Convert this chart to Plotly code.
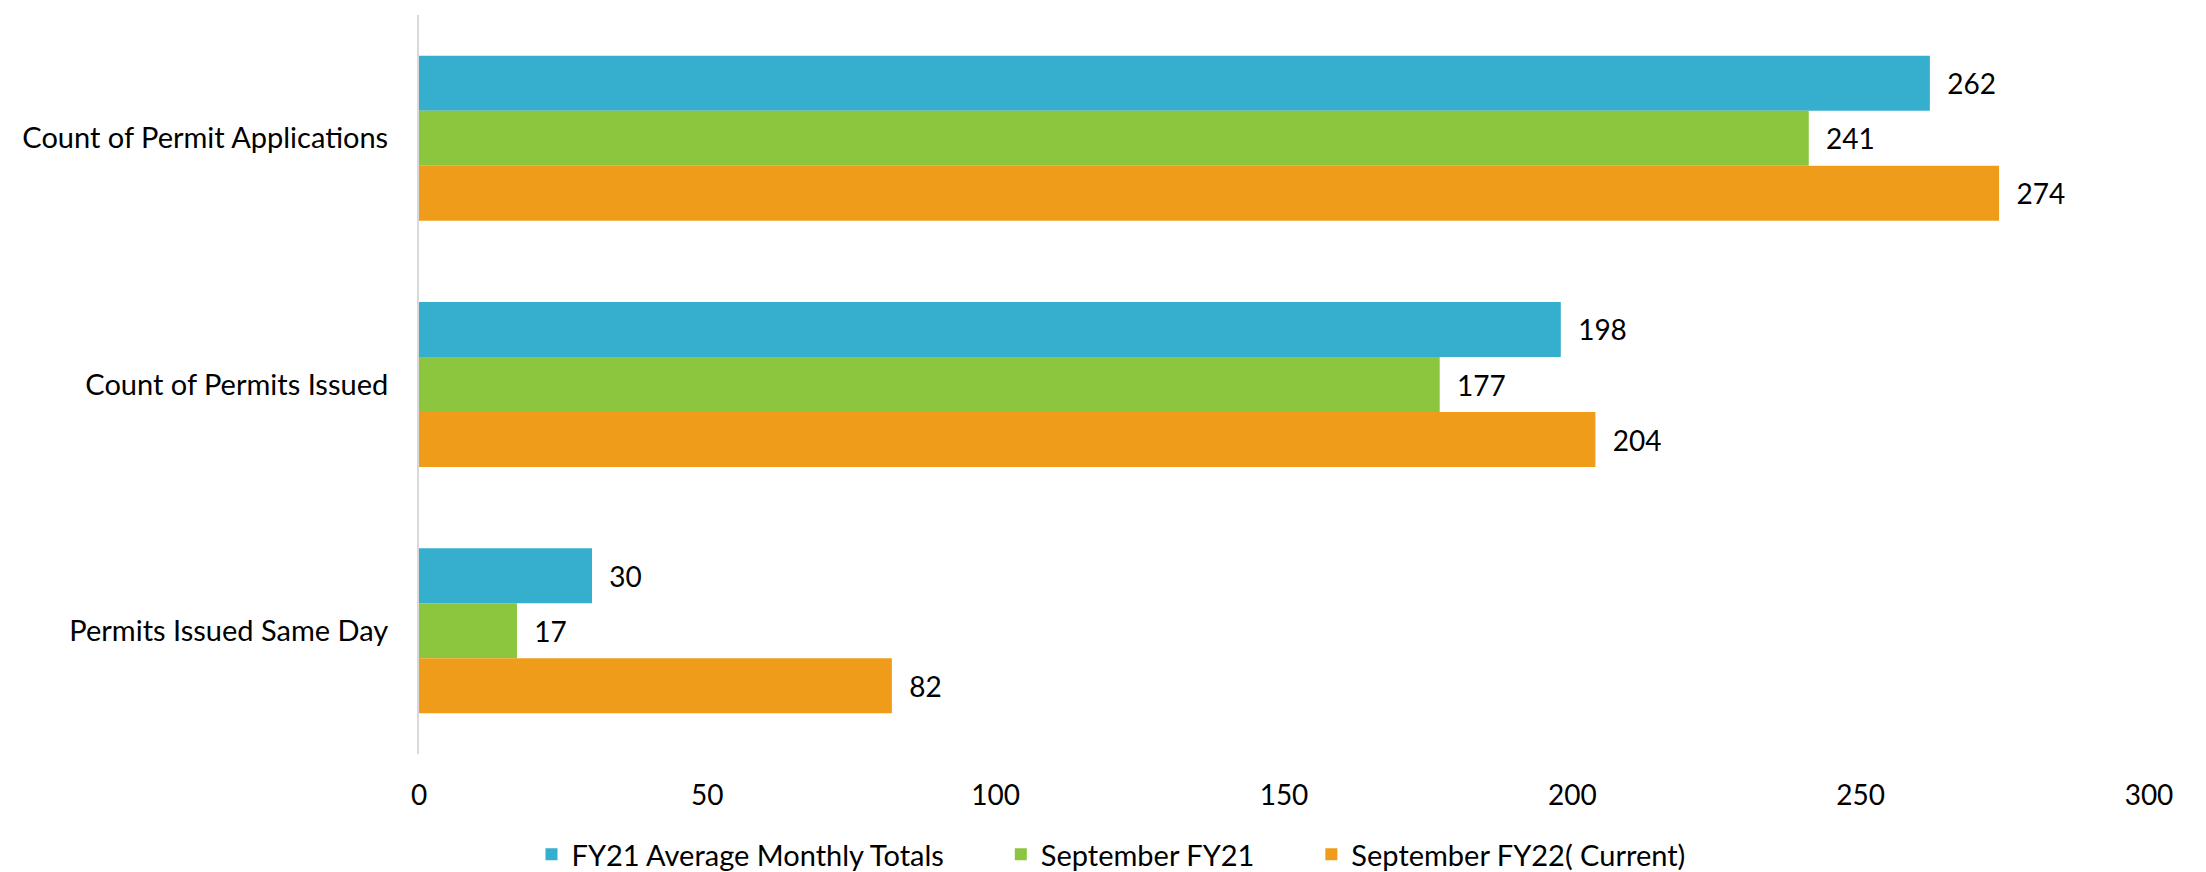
import plotly.graph_objects as go

categories = ["Count of Permit Applications", "Count of Permits Issued", "Permits Issued Same Day"]
series_names = ["FY21 Average Monthly Totals", "September FY21", "September FY22( Current)"]
fy21_avg = [262, 198, 30]
sep_fy21 = [241, 177, 17]
sep_fy22 = [274, 204, 82]
x_ticks = [0, 50, 100, 150, 200, 250, 300]

colors = ["#36AECD", "#8CC63F", "#F09C1B"]
FONT = "Lato"
FS = 29
PAD = "\u00a0" * 7

fig = go.Figure()
for i, (name, vals, col) in enumerate(zip(series_names, [fy21_avg, sep_fy21, sep_fy22], colors)):
    fig.add_trace(go.Bar(
        y=categories, x=vals, name=name + (PAD if i < 2 else ""), orientation="h",
        marker=dict(color=col, line=dict(width=0)),
        text=["\u00a0\u00a0" + str(v) for v in vals], textposition="outside",
        textfont=dict(family=FONT, size=FS - 1, color="#000000"),
        cliponaxis=False,
    ))

fig.update_layout(
    width=2206, height=872,
    margin=dict(l=411, r=65, t=7, b=126, autoexpand=False),
    paper_bgcolor="white", plot_bgcolor="white",
    barmode="group", bargap=0.33, bargroupgap=0,
    font=dict(family=FONT, size=FS, color="#000000"),
    showlegend=True,
    legend=dict(orientation="h", xref="container", x=0.5, xanchor="center",
                yref="container", y=0.0, yanchor="bottom",
                font=dict(family=FONT, size=FS), traceorder="normal",
                itemwidth=30),
)
fig.update_xaxes(range=[0, 300], tickvals=x_ticks, showgrid=False, zeroline=False,
                 showline=False, ticks="", ticklabelstandoff=22,
                 tickfont=dict(family=FONT, size=FS - 1))
fig.update_yaxes(autorange="reversed", showgrid=False, zeroline=False,
                 showline=True, linecolor="#D9D9D9", linewidth=2, ticks="",
                 ticklabelstandoff=23, tickfont=dict(family=FONT, size=FS))

fig.write_html("out.html")
